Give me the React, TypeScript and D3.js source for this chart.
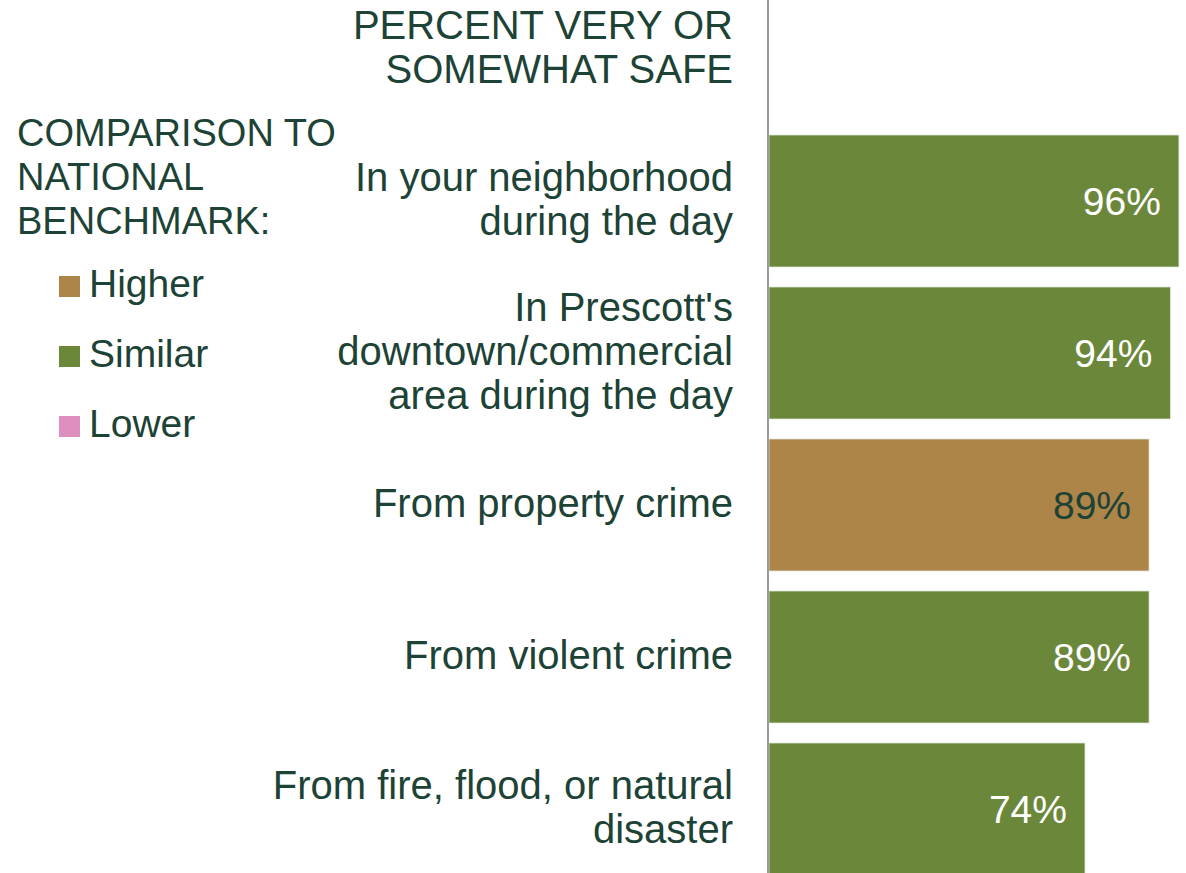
import * as d3 from "d3";

// Percent very or somewhat safe, compared to the national benchmark
const categories = [
  ["In your neighborhood", "during the day"],
  ["In Prescott's", "downtown/commercial", "area during the day"],
  ["From property crime"],
  ["From violent crime"],
  ["From fire, flood, or natural", "disaster"],
];
const values = [96, 94, 89, 89, 74];
const comparison = ["Similar", "Similar", "Higher", "Similar", "Similar"];

const legendKeys = ["Higher", "Similar", "Lower"];
const legendColors = ["#ad8548", "#6b873a", "#de8fbf"];
const titleLines = ["PERCENT VERY OR", "SOMEWHAT SAFE"];
const legendTitle = ["COMPARISON TO", "NATIONAL", "BENCHMARK:"];

const WIDTH = 1186;
const HEIGHT = 873;
const TEXT = "#1d4236";
const FONT = "'Liberation Sans', Arial, sans-serif";
const LABEL_FS = 40;
const LEGEND_FS = 38;
const VALUE_FS = 39;
const LINE = 44;

export default function App() {
  const keys = categories.map((c) => c.join(" "));

  const x = d3.scaleLinear().domain([0, 100]).range([769, 1196]);
  const y = d3
    .scaleBand<string>()
    .domain(keys)
    .range([125, 885])
    .paddingInner(0.1316)
    .paddingOuter(0.0658);

  const color = d3.scaleOrdinal<string, string>().domain(legendKeys).range(legendColors);

  const labelRight = 733;

  return (
    <div style={{ position: "fixed", left: 0, top: 0 }}>
      <svg width={WIDTH} height={HEIGHT} style={{ display: "block", fontFamily: FONT }}>
        <rect width={WIDTH} height={HEIGHT} fill="#fff" />

        {/* Column title */}
        {titleLines.map((t, i) => (
          <text
            key={t}
            x={labelRight}
            y={39 + i * LINE}
            textAnchor="end"
            fontSize={LABEL_FS}
            fill={TEXT}
          >
            {t}
          </text>
        ))}

        {/* Legend */}
        {legendTitle.map((t, i) => (
          <text key={t} x={17} y={146 + i * LINE} fontSize={LEGEND_FS} fill={TEXT}>
            {t}
          </text>
        ))}
        {legendKeys.map((k, i) => {
          const base = 297 + i * 70;
          return (
            <g key={k}>
              <rect x={59} y={base - 21} width={21} height={21} fill={color(k)} />
              <text x={89} y={base} fontSize={VALUE_FS} fill={TEXT}>
                {k}
              </text>
            </g>
          );
        })}

        {/* Bars */}
        {keys.map((k, i) => {
          const y0 = y(k) ?? 0;
          const cy = y0 + y.bandwidth() / 2;
          const lines = categories[i];
          const fill = color(comparison[i]);
          const dark = comparison[i] === "Higher";
          return (
            <g key={k}>
              <rect
                x={x(0)}
                y={y0}
                width={x(values[i]) - x(0)}
                height={y.bandwidth()}
                fill={fill}
                stroke="#dfe3d8"
                strokeWidth={0.75}
              />
              <text
                x={x(values[i]) - 18}
                y={cy}
                dy="0.35em"
                textAnchor="end"
                fontSize={VALUE_FS}
                fill={dark ? TEXT : "#ffffff"}
              >
                {values[i]}%
              </text>
              <text textAnchor="end" fontSize={LABEL_FS} fill={TEXT}>
                {lines.map((l, j) => (
                  <tspan
                    key={l}
                    x={labelRight}
                    y={cy + (j - (lines.length - 1) / 2) * LINE}
                    dy="0.3em"
                  >
                    {l}
                  </tspan>
                ))}
              </text>
            </g>
          );
        })}

        {/* Category axis line */}
        <line x1={768} x2={768} y1={0} y2={HEIGHT} stroke="#9b9b9b" strokeWidth={2} />
      </svg>
    </div>
  );
}
